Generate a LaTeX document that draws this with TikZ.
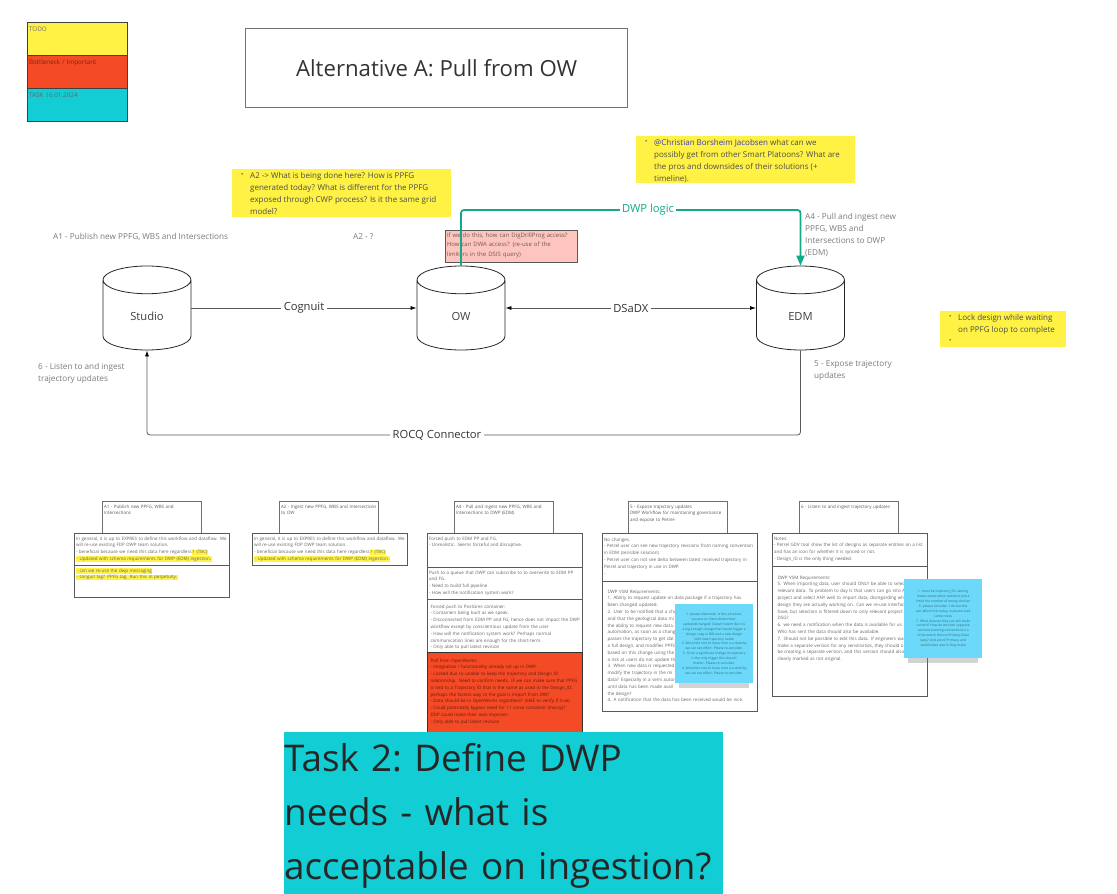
\documentclass[tikz,border=0pt]{standalone}
\usepackage{fontspec}
\setmainfont{Open Sans}
\usepackage{tikz}
\usetikzlibrary{positioning,calc,shapes.geometric,arrows.meta,shadows}

\definecolor{noteyellow}{HTML}{FFF244}
\definecolor{noteorange}{HTML}{F44A25}
\definecolor{notecyan}{HTML}{12CDD4}
\definecolor{notepink}{HTML}{FDC5BD}
\definecolor{noteblue}{HTML}{6CD8FA}
\definecolor{dwpgreen}{HTML}{12A98A}
\definecolor{labelgray}{HTML}{7A7A7A}
\definecolor{framegray}{HTML}{6F6F6F}

\newcommand{\hlt}[1]{{\setlength{\fboxsep}{0.6pt}\colorbox{noteyellow}{#1}}}

\begin{document}
\begin{tikzpicture}[
    x=1pt, y=-1pt,
    legendbox/.style={draw=black!75, line width=1pt, anchor=north west, minimum width=100pt, minimum height=33pt, inner xsep=1.5pt, inner ysep=2.5pt, text width=97pt, align=left, text height=6pt, text depth=22pt, font=\fontsize{6.3}{8}\selectfont},
    database/.style={cylinder, shape border rotate=90, aspect=0.65, draw=black!85, fill=white, line width=0.8pt, minimum width=88pt, minimum height=84pt, anchor=shape center, text width=36pt, align=center, text height=8pt, text depth=2pt, font=\fontsize{11.2}{14}\selectfont, text=black!75},
    flow/.style={draw=black!65, line width=0.8pt, -{Latex[black,length=6pt,width=4pt]}},
    edgelabel/.style={fill=white, inner sep=2.5pt, font=\fontsize{11.2}{14}\selectfont, text=black!80},
    stepnote/.style={anchor=north west, inner sep=0pt, align=left, text=labelgray, font=\fontsize{8.2}{12}\selectfont},
    yellownote/.style={fill=noteyellow, anchor=north west, inner sep=0pt},
    notetext/.style={anchor=north west, inner sep=0pt, align=left, text=black!70, font=\fontsize{8}{12}\selectfont},
    bulletmark/.style={anchor=west, inner sep=0pt, text=black!80, font=\fontsize{6}{12}\selectfont},
    textindent/.style={execute at begin node={\leftskip=#1\rightskip=-12pt plus 1fil}},
    header/.style={draw=framegray, line width=1pt, anchor=north west, inner xsep=0pt, inner ysep=1.5pt, text width=99pt, text height=5pt, text depth=24pt, align=left, textindent=1.5pt, text=black!65, font=\fontsize{4.5}{6.8}\selectfont},
    panel/.style={draw=black!65, line width=1pt, fill=white, anchor=north west, inner xsep=0pt, inner ysep=1.5pt, text width=155pt, text height=5pt, text depth=24pt, align=left, textindent=1.5pt, text=black!60, font=\fontsize{4.5}{6.8}\selectfont},
    sticky/.style={fill=noteblue, anchor=north west, minimum width=78pt, minimum height=79pt, inner sep=2pt, align=center, text=black!50!noteblue, font=\fontsize{3.3}{4.9}\selectfont, general shadow={fill=black!50, opacity=0.35, shadow yshift=-10pt, shadow scale=0.9}}
]

\useasboundingbox (0,0) rectangle (1117,894);

% legend
\node[legendbox, fill=noteyellow, text=black!55] (todo) at (27,22) {TODO};
\node[legendbox, fill=noteorange, text=black!50!noteorange] (bottleneck) at (27,55) {Bottleneck / Important};
\node[legendbox, fill=notecyan, text=black!60] (taskdate) at (27,88) {TASK 16.01.2024};

% title
\node[draw=black!55, line width=1.2pt, anchor=north west, minimum width=382pt, minimum height=79pt, text=black!80, font=\fontsize{22.2}{28}\selectfont] (title) at (245,28) {Alternative A: Pull from OW};

% yellow notes
\node[yellownote, minimum width=219pt, minimum height=48pt] (noteA) at (232,169) {};
\node[notetext] (noteAtext) at (250,172.5) {A2 -> What is being done here? How is PPFG\\generated today? What is different for the PPFG\\exposed through CWP process? Is it the same grid\\model?};
\node[bulletmark] (bulletA) at (241,175) {\textbullet};
\node[yellownote, minimum width=219pt, minimum height=47pt] (noteB) at (636,136) {};
\node[notetext] (noteBtext) at (654,139.5) {\textcolor{blue!55!gray}{@Christian Borsheim Jacobsen} what can we\\possibly get from other Smart Platoons? What are\\the pros and downsides of their solutions (+\\timeline).};
\node[bulletmark] (bulletB) at (645,142) {\textbullet};
\node[yellownote, minimum width=126pt, minimum height=36pt] (noteC) at (940,311) {};
\node[notetext] (noteCtext) at (958,314.5) {Lock design while waiting\\on PPFG loop to complete};
\node[bulletmark] (bulletC) at (949,317) {\textbullet};
\node[bulletmark] (bulletD) at (949,341) {\textbullet};

% step labels
\node[stepnote] (stepA) at (53,233) {A1 - Publish new PPFG, WBS and Intersections};
\node[stepnote] (stepB) at (353,233) {A2 - ?};
\node[stepnote] (stepC) at (805,213.5) {A4 - Pull and ingest new\\PPFG, WBS and\\Intersections to DWP\\(EDM)};
\node[stepnote] (stepD) at (814,360.5) {5 - Expose trajectory\\updates};
\node[stepnote] (stepE) at (38,363) {6 - Listen to and ingest\\trajectory updates};

% pink note
\node[draw=black!65, line width=1pt, fill=notepink, anchor=north west, inner sep=1.5pt, text width=129pt, text height=5pt, text depth=24pt, align=left, text=black!55!notepink, font=\fontsize{6}{9.7}\selectfont] (pinknote) at (445,230) {If we do this, how can DigDrillProg access?\\How can DWA access? (re-use of the\\limiters in the DSIS query)};

% databases
\node[database] (Studio) at (147,308) {Studio};
\node[database] (OW) at (461,308) {OW};
\node[database] (EDM) at (800.5,308) {EDM};

\coordinate (rocqmid) at (437,435);
\coordinate (dwpmid) at (648,210);

% connectors
\draw[flow] (Studio.shape center -| Studio.east) -- node[edgelabel]{Cognuit} (OW.shape center -| OW.west);
\draw[flow, {Latex[black,length=6pt,width=4pt]}-{Latex[black,length=6pt,width=4pt]}] (OW.shape center -| OW.east) -- node[edgelabel]{DSaDX} (EDM.shape center -| EDM.west);
\draw[flow, rounded corners=3pt] (EDM.south) |- (rocqmid) -| (Studio.south);
\node[edgelabel] (rocqlabel) at (rocqmid) {ROCQ Connector};
\draw[dwpgreen, line width=1.8pt, rounded corners=3pt, -{Triangle[dwpgreen,length=10pt,width=8pt]}] (OW.north) |- (dwpmid) -| (EDM.north);
\node[edgelabel, text=dwpgreen] (dwplabel) at (dwpmid) {DWP logic};

% A1 panel
\node[header] (headA) at (102,501) {A1 - Publish new PPFG, WBS and\\Intersections};
\node[panel] (infoA) at (74,533) {In general, it is up to EXPRES to define this workflow and dataflow. We\\will re-use existing FDP DWP team solution.\\- beneficial because we need this data here regardless\hlt{? (TBC)}\\\hlt{- Updated with schema requirements for DWP (EDM) ingestion.}};
\node[panel] (taskA) at (74,565) {\hlt{- can we re-use the dwp messaging}\\\hlt{- conguit tag? PPFG tag. Run this in perpetuity.}};

% A2 panel
\node[header] (headB) at (279,501) {A2 - Ingest new PPFG, WBS and Intersections\\to OW};
\node[panel] (infoB) at (252,533) {In general, it is up to EXPRES to define this workflow and dataflow. We\\will re-use existing FDP DWP team solution.\\- beneficial because we need this data here regardless\hlt{? (TBC)}\\\hlt{- Updated with schema requirements for DWP (EDM) ingestion.}};

% A4 panel
\node[header] (headC) at (454,501) {A4 - Pull and ingest new PPFG, WBS and\\Intersections to DWP (EDM)};
\node[panel, text depth=26pt] (optionA) at (427,533) {Forced push to EDM PP and FG.\\- Unrealistic. Seems forceful and disruptive.};
\node[panel] (optionB) at (427,567) {Push to a queue that DWP can subscribe to to overwrite to EDM PP\\and FG.\\- Need to build full pipeline\\- How will the notification system work?};
\node[panel, textindent=3pt, text height=7pt, text depth=43pt] (optionC) at (427,599) {Forced push to PostGres container:\\- Containers being built as we speak.\\- Disconnected from EDM PP and FG, hence does not impact the DWP\\workflow except by conscientious update from the user\\- How will the notification system work? Perhaps normal\\communication lines are enough for the short-term.\\- Only able to pull latest revision};
\node[panel, fill=noteorange, draw=black!80, text=black!60!noteorange, textindent=3pt, text height=8pt, text depth=69pt] (optionD) at (427,652) {Pull from OpenWorks:\\- Integration / functionality already set up in DWP.\\- Locked due to unable to keep the trajectory and Design ID\\relationship. Need to confirm needs. IF we can make sure that PPFG\\is tied to a Trajectory ID that is the same as used in the Design\_ID;\\perhaps the fastest way to the goal is import from OW?\\- Data should be in OpenWorks regardless? (SME to verify if true)\\- Could potentially bypass need for 11 curve container (messy)?\\DDP could make their own importer.\\- Only able to pull latest revision};

% 5 panel
\node[header] (headD) at (628,501) {5 - Expose trajectory updates\\DWP Workflow for maintaining governance\\and expose to Petrel-};
\node[panel, text height=6pt, text depth=39pt] (infoD) at (602,533) {No changes.\\- Petrel user can see new trajectory revisions from naming convention\\in EDM (sensible solution)\\- Petrel user can not see delta between latest received trajectory in\\Petrel and trajectory in use in DWP.\\-};
\node[panel, textindent=5pt, text height=10pt, text depth=117pt] (needsD) at (602,581) {DWP VSM Requirements:\\1. Ability to request update on data package if a trajectory has\\been changed updated.\\2. User to be notified that a cha\\and that the geological data mi\\the ability to request new data.\\automation, as soon as a chang\\passes the trajectory to get dat\\a full design, and modifies PPFG\\based on this change using the\\a risk at users do not update th\\3. When new data is requested\\modify the trajectory in the mi\\data? Especially in a semi autom\\until data has been made avail\\the design?\\4. A notification that the data has been received would be nice.};

% 6 panel
\node[header] (headE) at (799,501) {6 - Listen to and ingest trajectory updates};
\node[panel, text depth=25pt] (infoE) at (772,533) {Notes:\\- Petrel GDV tool show the list of designs as separate entities on a list\\and has an icon for whether it is synced or not.\\- Design\_ID is the only thing needed.};
\node[panel, textindent=5pt, text height=11pt, text depth=116pt] (needsE) at (772,566) {DWP VSM Requirements:\\5. When importing data, user should ONLY be able to select\\relevant data. To problem to day is that users can go into A\\project and select ANY well to import data, disregarding wh\\design they are actually working on. Can we re-use interfac\\have, but selection is filtered down to only relevant project\\DSG?\\6. we need a notification when the data is available for us. I\\Who has sent the data should also be available.\\7. Should not be possible to edit this data. If engineers wan\\make a separate version for any sensitivities, they should o\\be creating a separate version, and this version should also\\clearly marked as not original.};

% blue stickies
\node[sticky] (stickyA) at (675,604) {1. please elaborate: is this a human,\\success or client-driven/user-\\updated/changed: Doesn't seem like it is\\a big enough change that would trigger a\\design copy in OW and a new design\\with new trajectory name\\2. Would be nice to have, here is a sketchy\\we can see effort. Please re-consider.\\3. Since a significant change in trajectory\\is the only trigger this doesn't\\matter. Please re-consider.\\4. Would be nice to have, here is a sketchy\\we can see effort. Please re-consider.};
\node[sticky] (stickyB) at (904,579) {1. must be trajectory\_ID. naming\\makes sense when revisions join a\\limits the number of wrong choices\\6. please consider: I do see this\\can afford this today. A please read\\some notes\\7. What data we they can still make\\current? How do we then separate\\versions (naming convention) is a\\to be match then to Primary Data\\easy? And are of Primary, and\\sensitivities also in they make};

% task banner
\node[fill=notecyan, anchor=north west, inner sep=0pt, text width=439pt, text height=39pt, text depth=123pt, align=left, text=black!85, font=\frenchspacing\fontsize{36.8}{54}\selectfont] (taskbanner) at (284,732) {Task 2: Define DWP\\needs - what is\\acceptable on ingestion?};

\end{tikzpicture}
\end{document}
